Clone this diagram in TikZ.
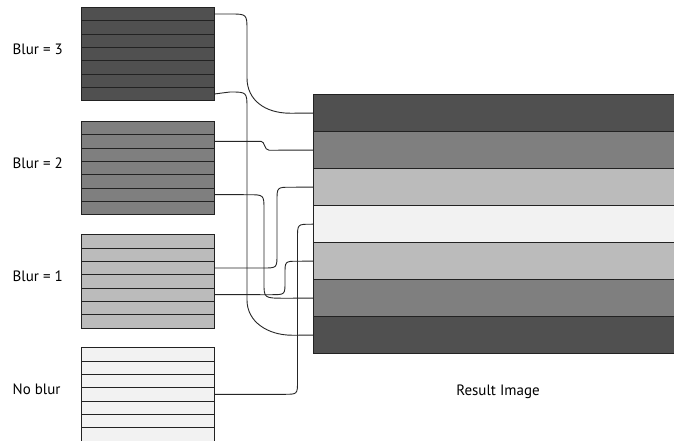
\documentclass[tikz,border=0pt]{standalone}
\usepackage{fontspec}
\setmainfont{PT Sans}
\definecolor{c3}{HTML}{505050}
\definecolor{c2}{HTML}{7F7F7F}
\definecolor{c1}{HTML}{BBBBBB}
\definecolor{c0}{HTML}{F2F2F2}
\definecolor{edge}{HTML}{222222}
\begin{document}
\begin{tikzpicture}[x=1pt,y=-1pt,
  row/.style={draw=edge, line width=0.9pt, fill=#1, minimum width=133pt, minimum height=13.33pt, inner sep=0pt, outer sep=0pt, anchor=north west},
  band/.style={draw=edge, line width=0.9pt, fill=#1, minimum width=380pt, minimum height=37pt, inner sep=0pt, outer sep=0pt, anchor=north west},
  lbl/.style={anchor=base west, font=\fontsize{15}{17}\selectfont, inner sep=0pt},
  wire/.style={draw=black!85, line width=0.9pt}
]
\useasboundingbox (0,0) rectangle (674,440);
\clip (0,0) rectangle (674,440);
\fill[white] (0,0) rectangle (674,440);
% source stacks
\foreach \g/\t/\col in {a/7.33/c3, b/121.33/c2, c/234.67/c1, d/347.67/c0}
  \foreach \i in {1,...,7}
    \node[row=\col] (\g\i) at (81.33,{\t+(\i-1)*13.33}) {};
% result image
\foreach \i/\col in {1/c3,2/c2,3/c1,4/c0,5/c1,6/c2,7/c3}
  \node[band=\col] (r\i) at (313.33,{94.67+(\i-1)*37}) {};
% labels
\node[lbl] (l3) at (12.5,54.5) {Blur = 3};
\node[lbl] (l2) at (12.5,168) {Blur = 2};
\node[lbl] (l1) at (12.5,281.5) {Blur = 1};
\node[lbl] (l0) at (12.5,394.5) {No blur};
\node[lbl, anchor=base] (res) at (498,395) {Result Image};
% connectors
\draw[wire] (a1.east) -- (230,14) .. controls (247,14) .. (247,31) -- (247,78)
  .. controls (247,100) and (265,113.2) .. (290,113.2) -- (r1.west);
\draw[wire] (b2.east) -- (261,141.3) .. controls (265,141.3) and (264,150.2) .. (269,150.2) -- (r2.west);
\draw[wire] (c3.east) -- (263,268) .. controls (277,268) .. (277,254) -- (277,201)
  .. controls (277,187.2) .. (291,187.2) -- (r3.west);
\draw[wire] (d4.east) -- (284,394.3) .. controls (297.5,394.3) .. (297.5,381) -- (297.5,238)
  .. controls (297.5,224.2) .. (311,224.2) -- (r4.west);
\draw[wire] (c5.east) -- (271,294.7) .. controls (285,294.7) .. (285,282) -- (285,274)
  .. controls (285,261.2) .. (298,261.2) -- (r5.west);
\draw[wire] (b6.east) -- (248,194.7) .. controls (264,194.7) .. (264,210) -- (264,283)
  .. controls (264,298.2) .. (285,298.2) -- (r6.west);
\draw[wire] (a7.east) -- (230,92) .. controls (247,92) .. (247,109) -- (247,300)
  .. controls (247,322) and (268,335.2) .. (292,335.2) -- (r7.west);
\end{tikzpicture}
\end{document}
